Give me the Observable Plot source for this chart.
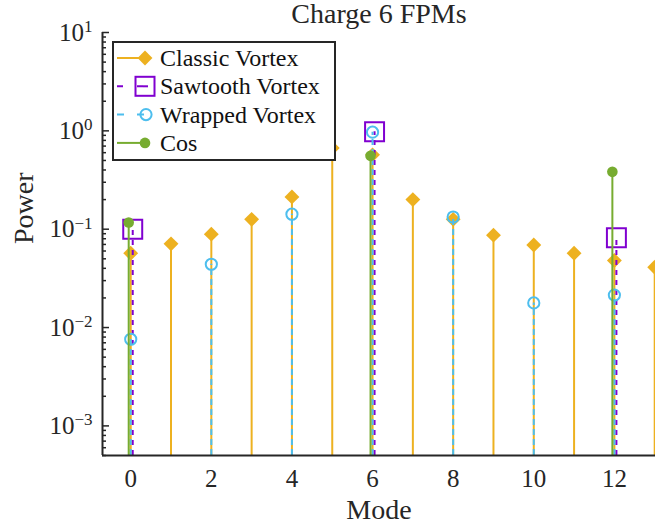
<!DOCTYPE html>
<html>
<head>
<meta charset="utf-8">
<script src="https://cdn.jsdelivr.net/npm/d3@7"></script>
<script src="https://cdn.jsdelivr.net/npm/@observablehq/plot@0.6"></script>
<style>
  html, body { margin: 0; padding: 0; background: #fff; }
  #wrap { position: relative; width: 655px; height: 527px; overflow: hidden; }
  #legend { position: absolute; left: 0; top: 0; }
</style>
</head>
<body>
<div id="wrap"></div>
<script>
// ---- data ----
const classicModes = [0, 1, 2, 3, 4, 5, 6, 7, 8, 9, 10, 11, 12, 13];
const classicPower = [0.057, 0.071, 0.089, 0.126, 0.213, 0.67, 0.57, 0.20, 0.126, 0.087, 0.069, 0.057, 0.048, 0.041];
const sawtoothModes = [0, 6, 12];
const sawtoothPower = [0.10, 0.98, 0.082];
const wrappedModes = [0, 2, 4, 6, 8, 10, 12];
const wrappedPower = [0.0076, 0.044, 0.142, 0.97, 0.133, 0.0178, 0.0214];
const cosModes = [0, 6, 12];
const cosPower = [0.117, 0.557, 0.383];

const seriesNames = ["Classic Vortex", "Sawtooth Vortex", "Wrapped Vortex", "Cos"];
const seriesColors = ["#EDB120", "#8000D0", "#4DBEEE", "#77AC30"];
const xTicks = [0, 2, 4, 6, 8, 10, 12];
const yMajorTicks = [1e-3, 1e-2, 1e-1, 1, 10];
const yDomain = [5e-4, 10];
const xDomain = [-0.7, 13.02];

const font = "Liberation Serif, serif";
const axisColor = "#262626";

const rows = (modes, vals) => modes.map((m, i) => ({mode: m, v: vals[i]}));
const classic = rows(classicModes, classicPower);
const sawtooth = rows(sawtoothModes, sawtoothPower);
const wrapped = rows(wrappedModes, wrappedPower);
const cosS = rows(cosModes, cosPower);

// minor log ticks (axis structure)
const yMinorTicks = [];
for (let e = -4; e <= 0; e++) for (let k = 2; k <= 9; k++) {
  const t = k * Math.pow(10, e);
  if (t >= yDomain[0] && t <= yDomain[1]) yMinorTicks.push(t);
}

const stem = (data, off, color, dash) => Plot.ruleX(data, {
  x: d => d.mode + off, y1: yDomain[0], y2: "v",
  stroke: color, strokeWidth: 2, strokeDasharray: dash
});

const chart = Plot.plot({
  width: 655, height: 527,
  marginLeft: 102, marginRight: 0, marginTop: 32, marginBottom: 72,
  style: {fontFamily: font, fontSize: "25px", color: axisColor, background: "#fff"},
  x: {domain: xDomain},
  y: {type: "log", domain: yDomain},
  marks: [
    // Classic
    stem(classic, 0, seriesColors[0], null),
    Plot.dot(classic, {x: "mode", y: "v", symbol: "diamond2", r: 6.7, fill: seriesColors[0], stroke: "none"}),
    // Sawtooth
    stem(sawtooth, 0.05, seriesColors[1], "5,5"),
    Plot.dot(sawtooth, {x: d => d.mode + 0.05, y: "v", symbol: "square", r: 10.7, fill: "none", stroke: seriesColors[1], strokeWidth: 2}),
    // Wrapped
    stem(wrapped, 0, seriesColors[2], "6,4"),
    Plot.dot(wrapped, {x: "mode", y: "v", symbol: "circle", r: 5.6, fill: "none", stroke: seriesColors[2], strokeWidth: 2}),
    // Cos
    stem(cosS, -0.05, seriesColors[3], null),
    Plot.dot(cosS, {x: d => d.mode - 0.05, y: "v", symbol: "circle", r: 5.3, fill: seriesColors[3], stroke: "none"}),
    // axes
    Plot.ruleX([xDomain[0]], {stroke: axisColor, strokeWidth: 2}),
    Plot.ruleY([yDomain[0]], {stroke: axisColor, strokeWidth: 2}),
    Plot.axisY(yMajorTicks, {tickSize: 7, dx: 7, tickFormat: () => "", label: null, stroke: axisColor, strokeWidth: 1.5}),
    Plot.axisY(yMinorTicks, {tickSize: 4, dx: 4, tickFormat: () => "", label: null, stroke: axisColor, strokeWidth: 1.5}),
    Plot.axisY(yMajorTicks, {tickSize: 0, tickPadding: 10, label: null, fontSize: 25, fill: axisColor,
      tickFormat: d => "E" + Math.round(Math.log10(d))}),
    Plot.axisX(xTicks, {tickSize: 0, tickPadding: 14, label: null, fontSize: 25, fill: axisColor}),
    Plot.text(["Mode"], {frameAnchor: "bottom", dy: 63, lineAnchor: "bottom", fontSize: 28, fill: axisColor}),
    Plot.text(["Power"], {frameAnchor: "left", dx: -70, rotate: -90, lineAnchor: "bottom", fontSize: 28, fill: axisColor}),
    Plot.text(["Charge 6 FPMs"], {frameAnchor: "top", dy: -10, lineAnchor: "bottom", fontSize: 28, fill: axisColor})
  ]
});

// turn y tick labels into 10^e with superscripts
d3.select(chart).selectAll("text").each(function() {
  const t = d3.select(this);
  const s = t.text();
  if (!/^E-?\d+$/.test(s)) return;
  const e = s.slice(1).replace("-", "\u2212");
  t.text(null);
  t.append("tspan").text("10");
  t.append("tspan").attr("dy", "-0.5em").attr("font-size", "0.68em").text(e);
});

document.getElementById("wrap").appendChild(chart);

// ---- legend ----
const lg = d3.select("#wrap").append("svg").attr("id", "legend").attr("width", 655).attr("height", 527);
lg.append("rect").attr("x", 113).attr("y", 42).attr("width", 222).attr("height", 118)
  .attr("fill", "#fff").attr("stroke", axisColor).attr("stroke-width", 2);
const dashes = [null, "6,14", "7,13", null];
seriesNames.forEach((name, i) => {
  const cy = 58 + i * 28.3;
  const g = lg.append("g");
  g.append("line").attr("x1", 117).attr("x2", 145).attr("y1", cy).attr("y2", cy)
    .attr("stroke", seriesColors[i]).attr("stroke-width", 2)
    .attr("stroke-dasharray", dashes[i]);
  if (i === 0) {
    g.append("path").attr("d", d3.symbol(d3.symbolDiamond2, Math.PI * 6.7 * 6.7)())
      .attr("transform", `translate(145,${cy})`).attr("fill", seriesColors[i]);
  } else if (i === 1) {
    g.append("line").attr("x1", 143).attr("x2", 148).attr("y1", cy).attr("y2", cy)
      .attr("stroke", seriesColors[i]).attr("stroke-width", 2);
    g.append("rect").attr("x", 135.5).attr("y", cy - 9.5).attr("width", 19).attr("height", 19)
      .attr("fill", "none").attr("stroke", seriesColors[i]).attr("stroke-width", 2);
  } else if (i === 2) {
    g.append("circle").attr("cx", 146).attr("cy", cy).attr("r", 5.6)
      .attr("fill", "none").attr("stroke", seriesColors[i]).attr("stroke-width", 2);
  } else {
    g.append("circle").attr("cx", 145).attr("cy", cy).attr("r", 5.3).attr("fill", seriesColors[i]);
  }
  g.append("text").attr("x", 160).attr("y", cy + 8).attr("font-family", font)
    .attr("font-size", 24).attr("fill", "#111").text(name);
});
</script>
</body>
</html>
